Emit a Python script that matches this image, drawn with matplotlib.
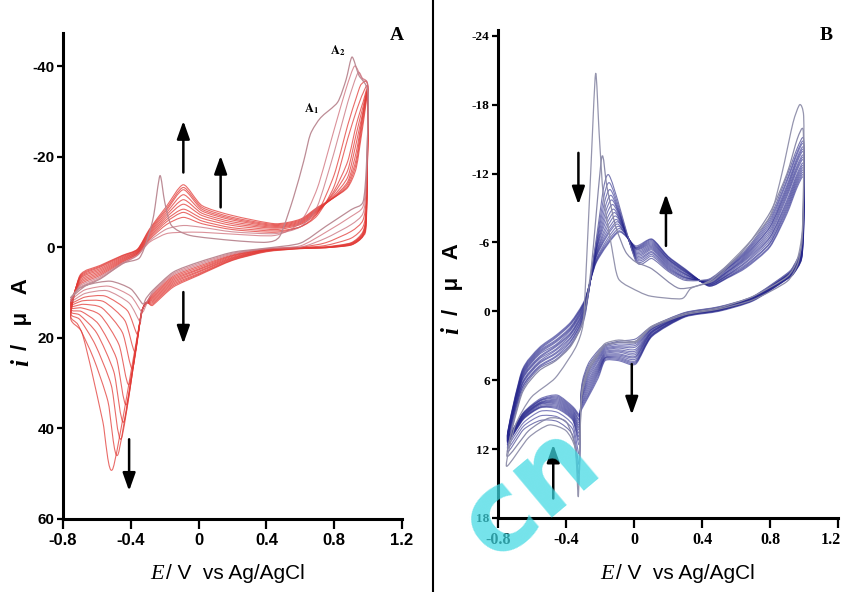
import numpy as np
import matplotlib
matplotlib.use("Agg")
import matplotlib.pyplot as plt
from matplotlib.path import Path
from matplotlib.patches import PathPatch
from matplotlib.lines import Line2D
from matplotlib.transforms import ScaledTranslation

plt.rcParams['mathtext.fontset'] = 'stix'

# ---------------------------------------------------------------- data: panel A
# first scan (explicit loop, E in V, i in uA; anodic current negative)
A0_E = [-0.755, -0.70, -0.58, -0.45, -0.35, -0.30, -0.265, -0.228, -0.20, -0.16, -0.05, 0.20, 0.40, 0.48, 0.56,
        0.62, 0.66, 0.72, 0.82, 0.87, 0.905, 0.945, 1.0, 0.99, 0.97, 0.90, 0.75, 0.60, 0.40, 0.20, 0.0, -0.15,
        -0.27, -0.31, -0.33, -0.40, -0.52, -0.66]
A0_I = [11.2, 9.0, 7.0, 3.6, 2.4, -2.0, -7.0, -15.8, -10.0, -4.8, -2.6, -1.5, -1.1, -2.5, -11.0,
        -19.0, -25.0, -28.6, -32.0, -37.0, -42.0, -38.0, -34.0, -18.0, -10.0, -8.3, -4.6, -0.9, 0.2, 1.1, 3.3, 5.5,
        9.5, 11.3, 12.5, 9.2, 7.5, 8.4]

# scans 2..12 : anodic sweep on a common potential grid
A_E_fwd = [-0.755, -0.70, -0.58, -0.45, -0.36, -0.29, -0.19, -0.09, 0.02, 0.20, 0.45]
A_L    = [11.6, 12.0, 12.3, 12.6, 12.9, 13.2, 13.6, 14.0, 14.5, 15.0, 15.6]
A_u070 = [8.8, 8.5, 8.2, 7.9, 7.6, 7.3, 7.0, 6.8, 6.6, 6.4, 6.2]
A_u058 = [6.8, 6.5, 6.2, 5.9, 5.6, 5.3, 5.0, 4.7, 4.4, 4.2, 4.0]
A_u045 = [3.7, 3.5, 3.3, 3.1, 2.9, 2.7, 2.5, 2.3, 2.1, 1.9, 1.8]
A_u036 = [1.8, 1.7, 1.5, 1.4, 1.2, 1.1, 0.9, 0.8, 0.6, 0.5, 0.4]
A_u029 = [-1.1, -1.4, -1.7, -2.0, -2.3, -2.6, -2.9, -3.2, -3.5, -3.8, -4.0]
A_u019 = [-3.0, -4.0, -5.0, -5.6, -6.1, -6.6, -7.1, -7.6, -8.1, -8.5, -9.0]
A_ipa  = [-3.3, -4.8, -6.6, -7.7, -8.4, -9.5, -10.5, -11.6, -12.7, -13.2, -13.8]
A_u002 = [-3.3, -4.4, -5.2, -5.8, -6.4, -7.0, -7.5, -8.0, -8.4, -8.8, -9.2]
A_u020 = [-2.9, -3.4, -3.9, -4.3, -4.8, -5.2, -5.6, -6.0, -6.3, -6.6, -7.0]
A_u045p = [-2.6, -3.0, -3.3, -3.6, -3.9, -4.2, -4.4, -4.6, -4.8, -5.0, -5.2]
# oxidation rise at positive potentials (A2 region)
A_rise_E = [[0.60, 0.70, 0.80, 0.87, 0.92, 0.96, 1.0],
            [0.60, 0.70, 0.80, 0.88, 0.94, 0.97, 1.0],
            [0.60, 0.70, 0.80, 0.88, 0.93, 0.96, 1.0]] + [[0.60, 0.70, 0.80, 0.88, 0.93, 0.97, 1.0]] * 8
A_rise_I = [[-5.5, -13, -26, -35, -40, -37.5, -35],
            [-4.5, -9, -21, -32, -38.5, -37, -35],
            [-4.5, -7.5, -16, -27, -33, -36, -35],
            [-4.5, -7, -13.5, -24, -30, -34, -34.5],
            [-5.0, -7.5, -12.5, -19, -27, -32, -34.2],
            [-5.2, -7.8, -12, -17, -25, -31, -34],
            [-5.4, -8, -11.5, -15.5, -23, -30, -34],
            [-5.6, -8.2, -11.2, -14.5, -21, -29.5, -33.8],
            [-5.8, -8.4, -11, -14, -19.5, -29, -33.6],
            [-6.0, -8.6, -11, -13.5, -18.5, -28, -33.4],
            [-6.2, -8.8, -11, -13.2, -17.5, -27, -33.2]]
# reverse (cathodic) sweep
A_E_rev = [0.99, 0.97, 0.90, 0.75, 0.60, 0.40, 0.20, 0.0, -0.15, -0.27]
A_r099 = [-16, -14, -12, -10, -9, -8.5, -8, -7.5, -7, -6.5, -6]
A_r097 = [-9, -7.5, -6, -4.5, -3.5, -3.2, -3.0, -2.8, -2.6, -2.5, -2.4]
A_r090 = [-6.8, -5.0, -3.5, -2.0, -1.0, -0.9, -0.8, -0.7, -0.6, -0.5, -0.5]
A_r075 = [-3.3, -2.0, -1.0, -0.4, -0.1, 0.0, 0.0, 0.05, 0.1, 0.1, 0.1]
A_c060 = [-0.3, 0.0, 0.0, 0.1, 0.1, 0.15, 0.2, 0.2, 0.25, 0.3, 0.3]
A_c040 = [0.3, 0.35, 0.4, 0.5, 0.55, 0.6, 0.7, 0.75, 0.8, 0.9, 1.0]
A_c020 = [1.3, 1.5, 1.7, 1.85, 2.0, 2.2, 2.35, 2.5, 2.65, 2.8, 2.9]
A_c000 = [3.6, 3.9, 4.2, 4.5, 4.8, 5.0, 5.3, 5.5, 5.8, 6.0, 6.2]
A_c015 = [5.8, 6.1, 6.4, 6.7, 7.0, 7.3, 7.6, 7.9, 8.2, 8.5, 8.8]
A_c027 = [9.8, 10.1, 10.4, 10.7, 11.0, 11.3, 11.6, 11.9, 12.2, 12.5, 12.8]
A_pre_E = [-0.31] + [-0.335] * 10
A_pre_I = [12.8, 14.0, 14.0, 14.1, 14.1, 14.2, 14.2, 14.3, 14.3, 14.4, 14.4]
A_Epc = [-0.335, -0.345, -0.36, -0.375, -0.39, -0.41, -0.425, -0.44, -0.455, -0.475, -0.505]
A_ipc = [14.3, 16.5, 19.3, 23.1, 26.8, 30.3, 34.7, 38.5, 42.2, 45.7, 48.8]
A_p1E = [-0.40, -0.41, -0.42, -0.435, -0.45, -0.47, -0.485, -0.50, -0.515, -0.535, -0.565]
A_p1I = [10.8, 12.3, 14.0, 16.2, 18.8, 21.5, 24.5, 27.5, 30.5, 34.0, 38.5]
A_p2E = [-0.53, -0.54, -0.55, -0.56, -0.57, -0.58, -0.59, -0.60, -0.61, -0.62, -0.63]
A_p2I = [8.6, 9.6, 10.8, 12.0, 13.4, 15.0, 17.0, 19.0, 21.5, 24.5, 27.5]
A_p3E = [-0.67, -0.67, -0.67, -0.68, -0.68, -0.69, -0.69, -0.70, -0.70, -0.71, -0.69]
A_p3I = [9.4, 10.2, 11.0, 11.8, 12.6, 13.4, 14.2, 15.0, 16.0, 17.2, 18.7]

# ---------------------------------------------------------------- data: panel B
B0_E = [-0.75, -0.70, -0.605, -0.463, -0.345, -0.30, -0.285, -0.255, -0.226, -0.205, -0.18, -0.13, -0.09, 0.03,
        0.105, 0.28, 0.335, 0.46, 0.66, 0.80, 0.87, 0.935, 0.975, 0.998, 0.998, 0.99, 0.96, 0.90, 0.70, 0.50,
        0.30, 0.105, 0.01, -0.09, -0.17, -0.21, -0.27, -0.31, -0.327, -0.345, -0.40, -0.50, -0.62]
B0_I = [13.5, 10.0, 7.5, 5.8, 3.2, 1.2, -2.5, -12.0, -20.7, -15.5, -10.0, -5.5, -2.8, -1.7,
        -1.3, -1.1, -2.0, -2.8, -5.7, -8.3, -12.0, -16.4, -18.0, -17.0, -12.0, -7.0, -4.5, -3.0, -1.3, -0.3,
        0.2, 1.3, 2.6, 2.5, 2.8, 3.6, 5.0, 7.5, 16.1, 12.0, 10.4, 9.9, 11.0]
B1_E = [-0.748, -0.66, -0.56, -0.46, -0.37, -0.30, -0.25, -0.19, -0.16, -0.11, -0.05, 0.01, 0.105, 0.265,
        0.44, 0.50, 0.66, 0.80, 0.90, 0.96, 0.995, 0.998, 0.99, 0.965, 0.90, 0.70, 0.50, 0.30, 0.105, 0.01,
        -0.09, -0.17, -0.21, -0.27, -0.31, -0.325, -0.345, -0.40, -0.50, -0.62]
B1_I = [12.6, 7.2, 5.2, 4.3, 3.0, 0.8, -4.0, -13.4, -10.9, -7.5, -5.2, -4.3, -3.7, -2.0,
        -2.5, -3.1, -5.6, -8.6, -12.0, -15.0, -15.8, -11.0, -6.5, -4.2, -2.6, -1.0, -0.2, 0.3, 1.4, 2.7,
        2.7, 3.0, 3.8, 5.3, 7.8, 15.0, 11.8, 9.6, 9.3, 10.4]

B_L    = [12.2, 11.9, 11.6, 11.4, 11.35, 11.3, 11.25, 11.2, 11.15, 11.1, 11.05, 11.0, 10.95, 10.9, 10.85, 10.8]
B_a066 = [7.0, 6.8, 6.7, 6.5, 6.4, 6.3, 6.1, 6.0, 5.9, 5.8, 5.7, 5.6, 5.5, 5.4, 5.3, 5.2]
B_a056 = [5.0, 4.9, 4.8, 4.6, 4.5, 4.4, 4.2, 4.1, 4.0, 3.8, 3.7, 3.6, 3.5, 3.4, 3.3, 3.2]
B_a046 = [4.2, 4.0, 3.9, 3.7, 3.6, 3.4, 3.3, 3.1, 3.0, 2.9, 2.7, 2.6, 2.5, 2.3, 2.2, 2.1]
B_a037 = [2.9, 2.8, 2.6, 2.5, 2.3, 2.2, 2.0, 1.9, 1.8, 1.6, 1.5, 1.4, 1.3, 1.1, 1.0, 0.9]
B_a029 = [0.5, 0.3, 0.2, 0.1, 0.0, -0.1, -0.2, -0.3, -0.4, -0.5, -0.6, -0.7, -0.8, -0.85, -0.9, -1.0]
B_a022 = [-6.5, -6.2, -6.0, -5.8, -5.6, -5.5, -5.4, -5.2, -5.1, -5.0, -4.9, -4.8, -4.6, -4.5, -4.4, -4.3]
B_Epa  = [-0.15, -0.145, -0.14, -0.135, -0.13, -0.125, -0.12, -0.115, -0.11, -0.105, -0.10, -0.10, -0.095, -0.09, -0.09, -0.09]
B_ipa  = [-11.9, -11.2, -10.6, -10.1, -9.7, -9.3, -8.9, -8.6, -8.3, -8.0, -7.8, -7.6, -7.4, -7.2, -7.0, -6.9]
B_v001 = [-4.4, -4.5, -4.6, -4.7, -4.8, -4.9, -5.0, -5.1, -5.2, -5.3, -5.4, -5.45, -5.5, -5.55, -5.6, -5.7]
B_p2   = [-4.6, -4.8, -4.95, -5.1, -5.2, -5.35, -5.45, -5.55, -5.65, -5.75, -5.85, -5.95, -6.05, -6.15, -6.25, -6.3]
B_a020 = [-3.5, -3.6, -3.7, -3.8, -3.9, -4.0, -4.1, -4.2, -4.3, -4.4, -4.5, -4.55, -4.6, -4.7, -4.75, -4.8]
B_a030 = [-2.7, -2.8, -2.9, -2.95, -3.0, -3.1, -3.2, -3.25, -3.3, -3.4, -3.45, -3.5, -3.55, -3.6, -3.65, -3.7]
B_a044 = [-2.8, -2.75, -2.7, -2.65, -2.6, -2.55, -2.5, -2.45, -2.4, -2.4, -2.35, -2.3, -2.3, -2.25, -2.2, -2.2]
B_a055 = [-4.0, -3.9, -3.8, -3.75, -3.7, -3.6, -3.5, -3.45, -3.4, -3.3, -3.2, -3.15, -3.1, -3.0, -2.95, -2.9]
B_a066r = [-5.4, -5.3, -5.2, -5.1, -5.0, -4.9, -4.8, -4.7, -4.6, -4.5, -4.35, -4.25, -4.1, -4.0, -3.9, -3.8]
B_a080 = [-8.2, -8.0, -7.8, -7.6, -7.4, -7.3, -7.1, -6.9, -6.7, -6.5, -6.4, -6.2, -6.0, -5.9, -5.7, -5.6]
B_a090 = [-11.8, -11.5, -11.3, -11.0, -10.8, -10.6, -10.4, -10.2, -10.0, -9.7, -9.5, -9.3, -9.1, -8.9, -8.7, -8.5]
B_a096 = [-14.2, -13.9, -13.7, -13.4, -13.2, -13.0, -12.7, -12.5, -12.3, -12.0, -11.8, -11.6, -11.4, -11.2, -11.0, -10.8]
B_R    = [-15.0, -14.7, -14.5, -14.2, -14.0, -13.8, -13.5, -13.3, -13.1, -12.8, -12.6, -12.4, -12.2, -12.0, -11.8, -11.6]
B_r0998 = [-10.0, -9.8, -9.6, -9.4, -9.2, -9.0, -8.8, -8.6, -8.4, -8.2, -8.0, -7.8, -7.6, -7.4, -7.2, -7.0]
B_r0985 = [-5.6, -5.5, -5.4, -5.3, -5.2, -5.1, -5.0, -4.95, -4.9, -4.85, -4.8, -4.7, -4.65, -4.6, -4.55, -4.5]
B_r094 = [-4.0, -3.95, -3.9, -3.85, -3.8, -3.75, -3.7, -3.65, -3.6, -3.55, -3.5, -3.45, -3.4, -3.35, -3.3, -3.3]
B_r090 = [-3.3, -3.25, -3.2, -3.15, -3.1, -3.1, -3.05, -3.0, -3.0, -2.95, -2.9, -2.9, -2.85, -2.85, -2.8, -2.8]
B_r070 = [-1.3, -1.27, -1.25, -1.22, -1.2, -1.17, -1.15, -1.12, -1.1, -1.07, -1.05, -1.02, -1.0, -0.97, -0.95, -0.9]
B_r050 = [-0.4, -0.37, -0.35, -0.32, -0.3, -0.27, -0.25, -0.22, -0.2, -0.17, -0.15, -0.12, -0.1, -0.07, -0.05, 0.0]
B_r030 = [0.1, 0.13, 0.15, 0.18, 0.2, 0.23, 0.25, 0.28, 0.3, 0.33, 0.35, 0.38, 0.4, 0.43, 0.46, 0.5]
B_c0105 = [1.3, 1.35, 1.4, 1.5, 1.55, 1.6, 1.7, 1.75, 1.8, 1.85, 1.9, 2.0, 2.05, 2.1, 2.15, 2.2]
B_c001 = [2.4, 2.6, 2.8, 2.95, 3.1, 3.3, 3.45, 3.6, 3.75, 3.9, 4.0, 4.15, 4.3, 4.4, 4.5, 4.6]
B_cm009 = [2.6, 2.7, 2.85, 3.0, 3.1, 3.2, 3.35, 3.45, 3.55, 3.7, 3.8, 3.9, 4.0, 4.1, 4.2, 4.3]
B_cm017 = [2.9, 3.0, 3.1, 3.2, 3.3, 3.4, 3.5, 3.6, 3.7, 3.8, 3.9, 4.0, 4.05, 4.1, 4.2, 4.3]
B_cm021 = [3.4, 3.55, 3.7, 3.85, 4.0, 4.15, 4.3, 4.5, 4.65, 4.8, 4.95, 5.1, 5.25, 5.4, 5.6, 5.8]
B_cm027 = [4.6, 4.8, 5.0, 5.2, 5.4, 5.6, 5.8, 6.0, 6.2, 6.4, 6.6, 6.8, 7.0, 7.2, 7.35, 7.5]
B_cm031 = [6.8, 6.9, 7.0, 7.1, 7.2, 7.35, 7.5, 7.6, 7.7, 7.8, 7.95, 8.1, 8.2, 8.3, 8.45, 8.6]
B_ipc  = [14.1, 13.3, 12.4, 11.6, 11.2, 10.9, 10.6, 10.3, 10.1, 9.9, 9.7, 9.5, 9.4, 9.2, 9.1, 9.0]
B_h036 = [10.8, 10.3, 9.9, 9.5, 9.4, 9.3, 9.2, 9.1, 9.0, 8.9, 8.8, 8.7, 8.6, 8.5, 8.4, 8.3]
B_h045 = [9.6, 9.2, 8.8, 8.5, 8.4, 8.3, 8.2, 8.1, 8.0, 7.9, 7.8, 7.7, 7.6, 7.5, 7.4, 7.3]
B_h055 = [9.5, 9.1, 8.7, 8.4, 8.35, 8.3, 8.2, 8.1, 8.05, 8.0, 7.95, 7.9, 7.8, 7.75, 7.7, 7.6]
B_h065 = [10.3, 10.0, 9.7, 9.4, 9.35, 9.3, 9.25, 9.2, 9.15, 9.1, 9.05, 9.0, 8.95, 8.9, 8.85, 8.8]

# arrows (E, tail current, head current)
A_arrow_E = [-0.09, 0.13, -0.09, -0.41]
A_arrow_from = [-16.5, -8.8, 9.9, 42.4]
A_arrow_to = [-27.9, -20.2, 21.3, 53.8]
B_arrow_E = [-0.327, 0.188, -0.013, -0.475]
B_arrow_from = [-13.8, -5.7, 4.6, 16.3]
B_arrow_to = [-9.3, -10.2, 9.0, 11.6]

x_ticks = [-0.8, -0.4, 0, 0.4, 0.8, 1.2]
x_tick_labels = ['-0.8', '-0.4', '0', '0.4', '0.8', '1.2']
A_yticks = [-40, -20, 0, 20, 40, 60]
A_ytick_labels = ['-40', '-20', '0', '20', '40', '60']
B_yticks = [-24, -18, -12, -6, 0, 6, 12, 18]
B_ytick_labels = ['-24', '-18', '-12', '-6', '0', '6', '12', '18']


# ---------------------------------------------------------------- helpers
def smooth_loop(E, I, tension=0.3):
    P = np.column_stack([E, I]).astype(float)
    n = len(P)
    k = (1.0 - tension) / 6.0
    verts = [P[0]]
    codes = [Path.MOVETO]
    for j in range(n):
        p0, p1, p2, p3 = P[(j - 1) % n], P[j], P[(j + 1) % n], P[(j + 2) % n]
        verts += [p1 + k * (p2 - p0), p2 - k * (p3 - p1), p2]
        codes += [Path.CURVE4] * 3
    return Path(verts, codes)


def draw_loop(ax, E, I, color, lw, alpha, z=2):
    ax.add_patch(PathPatch(smooth_loop(E, I), fill=False, edgecolor=color, lw=lw, alpha=alpha,
                           zorder=z, joinstyle='round'))


def loop_A(k):
    E = list(A_E_fwd)
    I = [A_L[k], A_u070[k], A_u058[k], A_u045[k], A_u036[k], A_u029[k], A_u019[k], A_ipa[k],
         A_u002[k], A_u020[k], A_u045p[k]]
    E += A_rise_E[k]
    I += A_rise_I[k]
    E += A_E_rev
    I += [A_r099[k], A_r097[k], A_r090[k], A_r075[k], A_c060[k], A_c040[k], A_c020[k], A_c000[k],
          A_c015[k], A_c027[k]]
    E += [A_pre_E[k], A_Epc[k], A_p1E[k], A_p2E[k], A_p3E[k]]
    I += [A_pre_I[k], A_ipc[k], A_p1I[k], A_p2I[k], A_p3I[k]]
    return E, I


def loop_B(k):
    E = [-0.745, -0.66, -0.56, -0.46, -0.37, -0.29, -0.22, B_Epa[k], 0.01, 0.105, 0.20, 0.30, 0.44, 0.55,
         0.66, 0.80, 0.90, 0.96, 0.998,
         0.998, 0.985, 0.94, 0.90, 0.70, 0.50, 0.30, 0.105, 0.01, -0.09, -0.17, -0.21, -0.27, -0.31,
         -0.322, -0.36, -0.45, -0.55, -0.65]
    I = [B_L[k], B_a066[k], B_a056[k], B_a046[k], B_a037[k], B_a029[k], B_a022[k], B_ipa[k], B_v001[k],
         B_p2[k], B_a020[k], B_a030[k], B_a044[k], B_a055[k], B_a066r[k], B_a080[k], B_a090[k], B_a096[k],
         B_R[k],
         B_r0998[k], B_r0985[k], B_r094[k], B_r090[k], B_r070[k], B_r050[k], B_r030[k], B_c0105[k],
         B_c001[k], B_cm009[k], B_cm017[k], B_cm021[k], B_cm027[k], B_cm031[k],
         B_ipc[k], B_h036[k], B_h045[k], B_h055[k], B_h065[k]]
    return E, I


def style_axes(ax, yt, ytl, ylim, tickfont, xsize, ysize):
    ax.set_xlim(-0.8, 1.2)
    ax.set_ylim(*ylim)
    for s in ['top', 'right']:
        ax.spines[s].set_visible(False)
    for s in ['left', 'bottom']:
        ax.spines[s].set_linewidth(2.2)
    ax.set_xticks(x_ticks)
    ax.set_xticklabels(x_tick_labels, fontfamily=tickfont, fontweight='bold', fontsize=xsize)
    ax.set_yticks(yt)
    ax.set_yticklabels(ytl, fontfamily=tickfont, fontweight='bold', fontsize=ysize)
    ax.tick_params(axis='x', direction='out', length=7, width=1.6, pad=3)
    ax.tick_params(axis='y', direction='out', length=4.5, width=1.6, pad=1.5)
    ax.patch.set_alpha(0)


def arrows(ax, Es, frm, to):
    for e, a, b in zip(Es, frm, to):
        ax.annotate('', xy=(e, b), xytext=(e, a),
                    arrowprops=dict(arrowstyle='-|>,head_length=0.9,head_width=0.32', lw=1.8, color='k',
                                    shrinkA=0, shrinkB=0, mutation_scale=12), zorder=6)


# ---------------------------------------------------------------- figure
fig = plt.figure(figsize=(8.46, 5.92), dpi=100)
axA = fig.add_axes([63 / 846, 1 - 519 / 592, 339 / 846, 486 / 592])
axB = fig.add_axes([498 / 846, 1 - 518 / 592, 340 / 846, 488 / 592])

style_axes(axA, A_yticks, A_ytick_labels, (60, -47.3), 'Liberation Sans', 12, 11)
style_axes(axB, B_yticks, B_ytick_labels, (18, -24.5), 'Liberation Serif', 11.5, 9.5)
last = axB.get_xticklabels()[-1]
last.set_transform(last.get_transform() + ScaledTranslation(-5 / 72, 0, fig.dpi_scale_trans))

# panel A curves
for k in range(len(A_L) - 1, -1, -1):
    E, I = loop_A(k)
    col = '#e23a36' if k >= 2 else ('#c8707c' if k == 1 else '#cf6d78')
    draw_loop(axA, E, I, col, 0.8, 0.75)
draw_loop(axA, A0_E, A0_I, '#b98690', 0.9, 0.95, z=3)
arrows(axA, A_arrow_E, A_arrow_from, A_arrow_to)
axA.text(0.665, -30.5, r'$\mathbf{A}_{\mathbf{1}}$', fontsize=9, ha='center', va='center')
axA.text(0.82, -43.5, r'$\mathbf{A}_{\mathbf{2}}$', fontsize=9, ha='center', va='center')

# panel B curves
for k in range(len(B_L) - 1, -1, -1):
    E, I = loop_B(k)
    col = '#26268c' if k >= 1 else '#6a6aa8'
    draw_loop(axB, E, I, col, 0.8, 0.6 if k >= 1 else 0.9)
draw_loop(axB, B1_E, B1_I, '#8585a6', 0.9, 0.95, z=3)
draw_loop(axB, B0_E, B0_I, '#8f8faa', 0.9, 0.95, z=3)
arrows(axB, B_arrow_E, B_arrow_from, B_arrow_to)

# labels
fig.text(397 / 846, 1 - 35 / 592, 'A', fontfamily='Liberation Serif', fontweight='bold', fontsize=14,
         ha='center', va='center')
fig.text(826 / 846, 1 - 36 / 592, 'B', fontfamily='Liberation Serif', fontweight='bold', fontsize=14,
         ha='center', va='center')
for xe in (150, 600):
    fig.text(xe / 846, 1 - 579 / 592, 'E', fontfamily='Liberation Serif', fontstyle='italic',
             fontsize=16, ha='left', va='baseline')
    fig.text((xe + 16) / 846, 1 - 579 / 592, '/ V  vs Ag/AgCl', fontfamily='Liberation Sans',
             fontsize=15, ha='left', va='baseline')
for xc, y_i, y_rest in ((22, 363, 350), (452, 331, 315)):
    fig.text(xc / 846, 1 - y_i / 592, 'i', fontfamily='Liberation Serif', fontstyle='italic',
             fontweight='bold', fontsize=18, rotation=90, ha='center', va='center')
    fig.text(xc / 846, 1 - y_rest / 592, '/   \u03bc   A', fontfamily='Liberation Sans',
             fontweight='bold', fontsize=16, rotation=90, ha='center', va='bottom')

# panel divider
fig.add_artist(Line2D([433 / 846, 433 / 846], [0, 1], transform=fig.transFigure, color='k', lw=1.5))

# watermark
fig.text(530 / 846, 1 - 493 / 592, 'cn', fontsize=80, fontweight='bold', color='#3fd9e3', alpha=0.72,
         rotation=40, ha='center', va='center', fontfamily='DejaVu Sans', zorder=10)

fig.savefig('out.png', dpi=100)
